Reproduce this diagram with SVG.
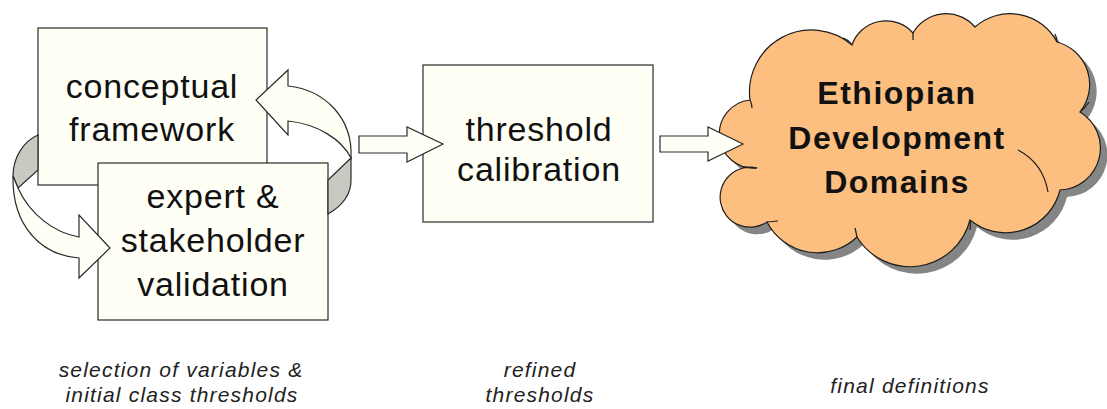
<svg xmlns="http://www.w3.org/2000/svg" width="1107" height="409" viewBox="0 0 1107 409">
  <style>
    .box { fill: #fffff6; stroke: #2a2a2a; stroke-width: 1.2; }
    .arrow { fill: #fffff6; stroke: #2a2a2a; stroke-width: 1.2; stroke-linejoin: miter; }
    .back { fill: #c9c9c2; stroke: #2a2a2a; stroke-width: 1.2; }
    .label { font-family: "Liberation Sans", Arial, sans-serif; font-size: 34px; fill: #111; text-anchor: middle; letter-spacing: 0.8px; }
    .cloud-label { font-family: "Liberation Sans", Arial, sans-serif; font-size: 32px; font-weight: bold; fill: #111; text-anchor: middle; letter-spacing: 1.5px; }
    .caption { font-family: "Liberation Sans", Arial, sans-serif; font-size: 21px; font-style: italic; fill: #222; text-anchor: middle; letter-spacing: 1.2px; }
    .cloud { fill: #fcbf80; stroke: #1e1e1e; stroke-width: 1.2; }
    .cloud-shadow { fill: #858585; }
    .hook { fill: none; stroke: #1e1e1e; stroke-width: 1.2; }
  </style>
  <defs>
    <path id="cloud-outline" d="M 750,100 A 62 62 0 0 1 852,45 A 36 36 0 0 1 913,33 A 38 38 0 0 1 975,27 A 53 53 0 0 1 1057,42 A 44 44 0 0 1 1080,112 A 42 42 0 0 1 1060,190 A 56 56 0 0 1 970,220 A 62 62 0 0 1 857,237 A 57 57 0 0 1 767,222 A 30 30 0 1 1 757,168 A 34 34 0 0 1 750,100 Z"/>
  </defs>

  <rect width="1107" height="409" fill="#ffffff"/>

  <!-- nodes -->
  <g id="node-conceptual-framework">
    <rect class="box" x="38" y="28" width="229" height="157"/>
    <text class="label" x="152" y="98">conceptual</text>
    <text class="label" x="152" y="141">framework</text>
  </g>

  <g id="node-expert-validation">
    <rect class="box" x="98" y="163" width="230" height="157"/>
    <text class="label" x="213" y="208">expert &amp;</text>
    <text class="label" x="213" y="252">stakeholder</text>
    <text class="label" x="213" y="296">validation</text>
  </g>

  <g id="node-threshold-calibration">
    <rect class="box" x="423" y="65" width="230" height="157"/>
    <text class="label" x="539" y="141">threshold</text>
    <text class="label" x="539" y="181">calibration</text>
  </g>

  <g id="node-development-domains">
    <use href="#cloud-outline" class="cloud-shadow" transform="translate(7,7)"/>
    <use href="#cloud-outline" class="cloud"/>
    <!-- overlapping lobe edges inside the cloud -->
    <path class="hook" d="M 1018,150 Q 1043,163 1048,192"/>
    <path class="hook" d="M 743,167 L 757,168"/>
    <path class="hook" d="M 750,100 Q 752,104 752,108"/>
    <path class="hook" d="M 843,38 Q 849,40 852,45"/>
    <path class="hook" d="M 913,33 L 913,40"/>
    <path class="hook" d="M 1080,112 Q 1085,108 1089,102"/>
    <path class="hook" d="M 1055,34 Q 1057,38 1057,42"/>
    <path class="hook" d="M 767,222 L 778,221"/>
    <path class="hook" d="M 857,237 Q 856,232 855,228"/>
    <path class="hook" d="M 970,220 Q 971,225 970,230"/>
    <text class="cloud-label" x="897" y="104">Ethiopian</text>
    <text class="cloud-label" x="897" y="149">Development</text>
    <text class="cloud-label" x="897" y="193">Domains</text>
  </g>

  <!-- connectors -->
  <g id="connectors">
    <!-- iteration loop: conceptual framework -> expert validation -->
    <path class="back" d="M 38,135 C 24,141 13,157 13,176 L 18,188 L 38,170 Z"/>
    <path class="arrow" d="M 13,176 C 12,225 40,255 79,258 L 79,278 L 110,248 L 79,215 L 79,237 C 55,233 30,215 18,188 Z"/>
    <!-- iteration loop: expert validation -> conceptual framework -->
    <path class="back" d="M 351,158 L 328,180 L 328,214 C 342,206 351,195 351,180 Z"/>
    <path class="arrow" d="M 351,158 C 353,118 325,90 288,86 L 288,70 L 256,100 L 288,135 L 288,121 C 318,124 342,140 351,158 Z"/>
    <!-- stage transitions -->
    <path class="arrow" d="M 359,136 L 407,136 L 407,127 L 443,144 L 407,162 L 407,153 L 359,153 Z"/>
    <path class="arrow" d="M 660,136 L 708,136 L 708,127 L 743,144 L 708,161 L 708,152 L 660,152 Z"/>
  </g>

  <!-- stage captions -->
  <g id="captions">
    <text class="caption" x="181" y="377">selection of variables &amp;</text>
    <text class="caption" x="182" y="402">initial class thresholds</text>
    <text class="caption" x="540" y="377">refined</text>
    <text class="caption" x="540" y="402">thresholds</text>
    <text class="caption" x="910" y="393">final definitions</text>
  </g>
</svg>
